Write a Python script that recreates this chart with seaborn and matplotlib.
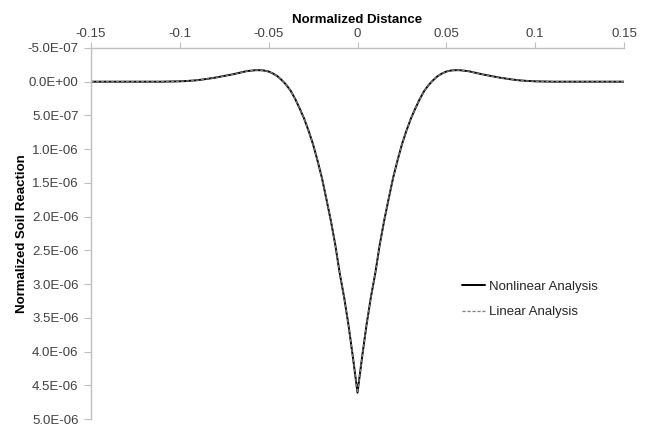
import numpy as np
import pandas as pd
import matplotlib
matplotlib.use("Agg")
import matplotlib.pyplot as plt
import seaborn as sns

# ---- data ----
distance = [-0.15, -0.14, -0.13, -0.12, -0.11, -0.10, -0.095, -0.09, -0.085, -0.08,
            -0.075, -0.07, -0.065, -0.0625, -0.06, -0.0575, -0.055, -0.0525, -0.05, -0.0475,
            -0.045, -0.0425, -0.04, -0.0375, -0.035, -0.0325, -0.03, -0.0275, -0.025, -0.0225,
            -0.02, -0.0175, -0.015, -0.0125, -0.01, -0.0075, -0.005, -0.0025,
            0.0,
            0.0025, 0.005, 0.0075, 0.01, 0.0125, 0.015, 0.0175, 0.02, 0.0225, 0.025,
            0.0275, 0.03, 0.0325, 0.035, 0.0375, 0.04, 0.0425, 0.045, 0.0475, 0.05,
            0.0525, 0.055, 0.0575, 0.06, 0.0625, 0.065, 0.07, 0.075, 0.08, 0.085,
            0.09, 0.095, 0.10, 0.11, 0.12, 0.13, 0.14, 0.15]

# soil reaction in units of 1e-6
nonlinear_e6 = [0.0, 0.0, 0.0, 0.0, 0.0, -0.005, -0.012, -0.022, -0.04, -0.06,
                -0.085, -0.11, -0.14, -0.155, -0.163, -0.17, -0.17, -0.165, -0.15, -0.12,
                -0.08, -0.02, 0.05, 0.14, 0.26, 0.40, 0.55, 0.73, 0.93, 1.17,
                1.43, 1.74, 2.06, 2.42, 2.84, 3.20, 3.62, 4.10,
                4.61,
                4.10, 3.62, 3.20, 2.84, 2.42, 2.06, 1.74, 1.43, 1.17, 0.93,
                0.73, 0.55, 0.40, 0.26, 0.14, 0.05, -0.02, -0.08, -0.12, -0.15,
                -0.165, -0.17, -0.17, -0.163, -0.155, -0.14, -0.11, -0.085, -0.06, -0.04,
                -0.022, -0.012, -0.005, 0.0, 0.0, 0.0, 0.0, 0.0]

linear_e6 = list(nonlinear_e6)

series_names = ["Nonlinear Analysis", "Linear Analysis"]
x_ticks = [-0.15, -0.1, -0.05, 0, 0.05, 0.1, 0.15]
x_tick_labels = ["-0.15", "-0.1", "-0.05", "0", "0.05", "0.1", "0.15"]
y_ticks = [-5e-7, 0.0, 5e-7, 1e-6, 1.5e-6, 2e-6, 2.5e-6, 3e-6, 3.5e-6, 4e-6, 4.5e-6, 5e-6]
y_tick_labels = ["-5.0E-07", "0.0E+00", "5.0E-07", "1.0E-06", "1.5E-06", "2.0E-06",
                 "2.5E-06", "3.0E-06", "3.5E-06", "4.0E-06", "4.5E-06", "5.0E-06"]

df_nl = pd.DataFrame({"x": distance, "y": np.array(nonlinear_e6) * 1e-6})
df_l = pd.DataFrame({"x": distance, "y": np.array(linear_e6) * 1e-6})

# ---- style ----
sns.set_theme(style="white")
plt.rcParams["font.family"] = ["Liberation Sans", "DejaVu Sans"]
fs = 9.5
grey = "#bfbfbf"
tick_col = "#404040"

fig = plt.figure(figsize=(6.5, 4.28), dpi=100)
ax = fig.add_axes([0.14, 0.021, 0.82, 0.867])

sns.lineplot(data=df_nl, x="x", y="y", ax=ax, color="black", linewidth=1.4,
             label=series_names[0], sort=False)
sns.lineplot(data=df_l, x="x", y="y", ax=ax, color="#7f7f7f", linewidth=0.9,
             linestyle=(0, (2.5, 1.5)), label=series_names[1], sort=False)

ax.set_xlim(-0.15, 0.15)
ax.set_ylim(5e-6, -5e-7)

ax.xaxis.tick_top()
ax.xaxis.set_label_position("top")
ax.set_xticks(x_ticks)
ax.set_xticklabels(x_tick_labels)
ax.set_yticks(y_ticks)
ax.set_yticklabels(y_tick_labels)

ax.tick_params(axis="x", which="both", top=True, bottom=False, direction="out",
               length=4, width=0.8, color=grey, pad=2, labelsize=fs, labelcolor=tick_col)
ax.tick_params(axis="y", which="both", left=True, right=False, direction="out",
               length=5, width=0.8, color=grey, pad=4, labelsize=fs, labelcolor=tick_col)

for side in ["bottom", "right"]:
    ax.spines[side].set_visible(False)
for side in ["top", "left"]:
    ax.spines[side].set_visible(True)
    ax.spines[side].set_color(grey)
    ax.spines[side].set_linewidth(1.0)

ax.set_xlabel("Normalized Distance", fontsize=fs, fontweight="bold", color="black", labelpad=3)
ax.set_ylabel("Normalized Soil Reaction", fontsize=fs, fontweight="bold", color="black", labelpad=0)
ax.grid(False)

ax.legend_.remove()
handles, labels = ax.get_legend_handles_labels()
fig.legend(handles, labels, loc="center left", bbox_to_anchor=(0.710, 0.300),
           bbox_transform=fig.transFigure, frameon=False, fontsize=fs,
           handlelength=1.75, handletextpad=0.3, labelspacing=1.0, borderpad=0,
           borderaxespad=0, labelcolor="#262626")

fig.savefig("out.png", dpi=100)
